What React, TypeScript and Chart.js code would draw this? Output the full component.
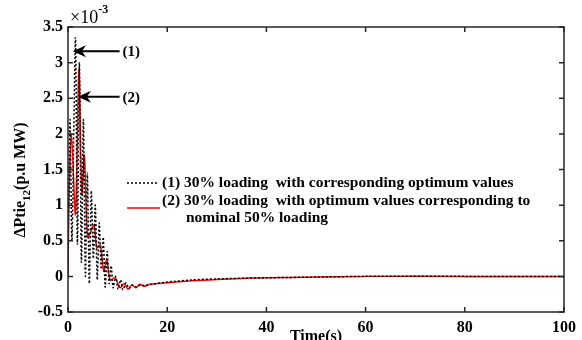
import React, { useEffect, useRef } from 'react';
import { Chart, registerables } from 'chart.js';

Chart.register(...registerables);

// Data (values in units of 1e-3 p.u MW)
const timeBlack = [0, 0.4, 0.8, 1.5, 1.9, 2.3, 2.7, 3.1, 3.5, 3.9, 4.3, 4.7, 5.1, 5.5, 5.9, 6.3, 6.7, 7.1, 7.5, 7.9, 8.3, 8.7, 9.1, 9.6, 10.1, 10.6, 11.1, 11.7, 12.3, 13, 13.8, 14.6, 15.5, 17, 20, 25, 30, 40, 50, 60, 80, 100];
const valBlack = [0, 2.2, 0.5, 3.35, 0.45, 3.0, 0.2, 2.2, 0.0, 1.45, -0.1, 1.2, 0.25, 1.0, -0.05, 0.75, 0.1, 0.55, -0.15, 0.35, -0.1, 0.15, -0.16, 0.0, -0.18, -0.05, -0.19, -0.09, -0.17, -0.12, -0.15, -0.12, -0.13, -0.11, -0.08, -0.05, -0.035, -0.02, -0.01, 0, 0, 0];

const timeRed = [0, 0.15, 0.7, 1.5, 2.2, 2.8, 3.3, 4.0, 5.2, 5.8, 6.5, 7.2, 7.8, 8.5, 9.5, 10.5, 11.3, 12.1, 12.9, 13.7, 14.5, 15.3, 16.5, 18, 20, 25, 30, 35, 40, 50, 60, 80, 100];
const valRed = [0, 0.9, 2.0, 0.87, 2.9, 1.15, 1.7, 0.55, 0.72, 0.4, 0.44, 0.07, 0.23, -0.05, -0.02, -0.16, -0.1, -0.18, -0.12, -0.16, -0.11, -0.14, -0.11, -0.1, -0.09, -0.06, -0.045, -0.03, -0.02, -0.01, 0, 0, 0];

const xTicks = [0, 20, 40, 60, 80, 100];
const yTicks = [-0.5, 0, 0.5, 1, 1.5, 2, 2.5, 3, 3.5];

const legendLabels = [
  '(1) 30% loading  with corresponding optimum values',
  '(2) 30% loading  with optimum values corresponding to',
  'nominal 50% loading',
];
const arrowLabels = ['(1)', '(2)'];
// arrow tips / tails in data coordinates
const arrowTipX = [1.0, 2.0];
const arrowTipY = [3.16, 2.52];
const arrowTailX = [10.4, 10.4];

const FONT = '"Liberation Serif", "Times New Roman", serif';

const decorPlugin = {
  id: 'decor',
  afterDraw(chart: any) {
    const ctx = chart.ctx as CanvasRenderingContext2D;
    const { left, right, top, bottom } = chart.chartArea;
    const xs = chart.scales.x;
    const ys = chart.scales.y;
    ctx.save();
    // box
    ctx.strokeStyle = '#262626';
    ctx.lineWidth = 1.5;
    ctx.strokeRect(left, top, right - left, bottom - top);
    // inward ticks
    ctx.beginPath();
    for (const v of xTicks) {
      const px = xs.getPixelForValue(v);
      ctx.moveTo(px, bottom);
      ctx.lineTo(px, bottom - 5);
      ctx.moveTo(px, top);
      ctx.lineTo(px, top + 5);
    }
    for (const v of yTicks) {
      const py = ys.getPixelForValue(v);
      ctx.moveTo(left, py);
      ctx.lineTo(left + 5, py);
      ctx.moveTo(right, py);
      ctx.lineTo(right - 5, py);
    }
    ctx.stroke();

    // exponent label
    ctx.fillStyle = '#000';
    ctx.textBaseline = 'alphabetic';
    ctx.textAlign = 'left';
    ctx.font = `18px ${FONT}`;
    ctx.fillText('\u00d710', left + 2, top - 4);
    const w10 = ctx.measureText('\u00d710').width;
    ctx.font = `bold 12px ${FONT}`;
    ctx.fillText('-3', left + 2 + w10, top - 14);

    // arrows
    for (let i = 0; i < 2; i++) {
      const tx = xs.getPixelForValue(arrowTipX[i]);
      const ty = ys.getPixelForValue(arrowTipY[i]);
      const ex = xs.getPixelForValue(arrowTailX[i]);
      ctx.strokeStyle = '#000';
      ctx.lineWidth = 2;
      ctx.beginPath();
      ctx.moveTo(tx + 8, ty);
      ctx.lineTo(ex, ty);
      ctx.stroke();
      ctx.fillStyle = '#000';
      ctx.beginPath();
      ctx.moveTo(tx, ty);
      ctx.lineTo(tx + 13, ty - 6);
      ctx.lineTo(tx + 9, ty);
      ctx.lineTo(tx + 13, ty + 6);
      ctx.closePath();
      ctx.fill();
      ctx.font = `bold 15px ${FONT}`;
      ctx.textBaseline = 'middle';
      ctx.textAlign = 'left';
      ctx.fillText(arrowLabels[i], ex + 3, ty + 1);
    }

    // legend
    const lx = left + 59;
    ctx.font = `bold 15.5px ${FONT}`;
    ctx.textBaseline = 'middle';
    ctx.textAlign = 'left';
    ctx.strokeStyle = '#000';
    ctx.lineWidth = 1.5;
    ctx.setLineDash([2, 2]);
    ctx.beginPath();
    ctx.moveTo(lx, top + 156);
    ctx.lineTo(lx + 31, top + 156);
    ctx.stroke();
    ctx.setLineDash([]);
    ctx.strokeStyle = '#ff0000';
    ctx.lineWidth = 1.5;
    ctx.beginPath();
    ctx.moveTo(lx, top + 181);
    ctx.lineTo(lx + 33, top + 181);
    ctx.stroke();
    ctx.fillStyle = '#000';
    ctx.fillText(legendLabels[0], lx + 35, top + 156);
    ctx.fillText(legendLabels[1], lx + 35, top + 174);
    ctx.fillText(legendLabels[2], lx + 59, top + 191);

    // x title
    ctx.font = `bold 16px ${FONT}`;
    ctx.textAlign = 'center';
    ctx.textBaseline = 'alphabetic';
    ctx.fillText('Time(s)', (left + right) / 2, 341);

    // y title (rotated, with subscript)
    ctx.save();
    ctx.translate(25, 180);
    ctx.rotate(-Math.PI / 2);
    const p1 = '\u0394Ptie';
    const sub = '12';
    const p2 = '(p.u MW)';
    ctx.font = `bold 16px ${FONT}`;
    const w1 = ctx.measureText(p1).width;
    const w3 = ctx.measureText(p2).width;
    ctx.font = `bold 11px ${FONT}`;
    const w2 = ctx.measureText(sub).width;
    const total = w1 + w2 + w3;
    let cx = -total / 2;
    ctx.textAlign = 'left';
    ctx.font = `bold 16px ${FONT}`;
    ctx.fillText(p1, cx, 0);
    cx += w1;
    ctx.font = `bold 11px ${FONT}`;
    ctx.fillText(sub, cx, 5);
    cx += w2;
    ctx.font = `bold 16px ${FONT}`;
    ctx.fillText(p2, cx, 0);
    ctx.restore();

    ctx.restore();
  },
};

export default function App() {
  const ref = useRef<HTMLCanvasElement | null>(null);
  useEffect(() => {
    if (!ref.current) return;
    const chart = new Chart(ref.current, {
      type: 'line',
      data: {
        datasets: [
          {
            label: 'black',
            data: timeBlack.map((t, i) => ({ x: t, y: valBlack[i] })),
            borderColor: '#000000',
            borderWidth: 1.5,
            borderDash: [2, 2],
            pointRadius: 0,
            tension: 0.25,
            fill: false,
          },
          {
            label: 'red',
            data: timeRed.map((t, i) => ({ x: t, y: valRed[i] })),
            borderColor: '#ff0000',
            borderWidth: 1.5,
            pointRadius: 0,
            tension: 0.3,
            fill: false,
          },
        ],
      },
      options: {
        responsive: false,
        animation: false,
        layout: { padding: { left: 0, top: 27, right: 14, bottom: 0 } },
        plugins: { legend: { display: false }, tooltip: { enabled: false } },
        scales: {
          x: {
            type: 'linear',
            min: 0,
            max: 100,
            grid: { display: false, drawTicks: false },
            border: { display: false },
            afterFit: (s: any) => { s.height = 28; },
            afterBuildTicks: (s: any) => { s.ticks = xTicks.map((v) => ({ value: v })); },
            ticks: {
              color: '#000',
              padding: 6,
              maxRotation: 0,
              callback: (v: any) => String(v),
              font: { family: FONT, size: 16, weight: 'bold' },
            },
          },
          y: {
            type: 'linear',
            min: -0.5,
            max: 3.5,
            grid: { display: false, drawTicks: false },
            border: { display: false },
            afterFit: (s: any) => { s.width = 68; },
            afterBuildTicks: (s: any) => { s.ticks = yTicks.map((v) => ({ value: v })); },
            ticks: {
              color: '#000',
              padding: 5,
              callback: (v: any) => String(v),
              font: { family: FONT, size: 16, weight: 'bold' },
            },
          },
        },
      },
      plugins: [decorPlugin],
    });
    return () => chart.destroy();
  }, []);
  return (
    <div style={{ position: 'absolute', left: 0, top: 0, width: 582, height: 340, background: '#fff' }}>
      <canvas ref={ref} width={582} height={340} style={{ width: 582, height: 340, display: 'block' }} />
    </div>
  );
}
